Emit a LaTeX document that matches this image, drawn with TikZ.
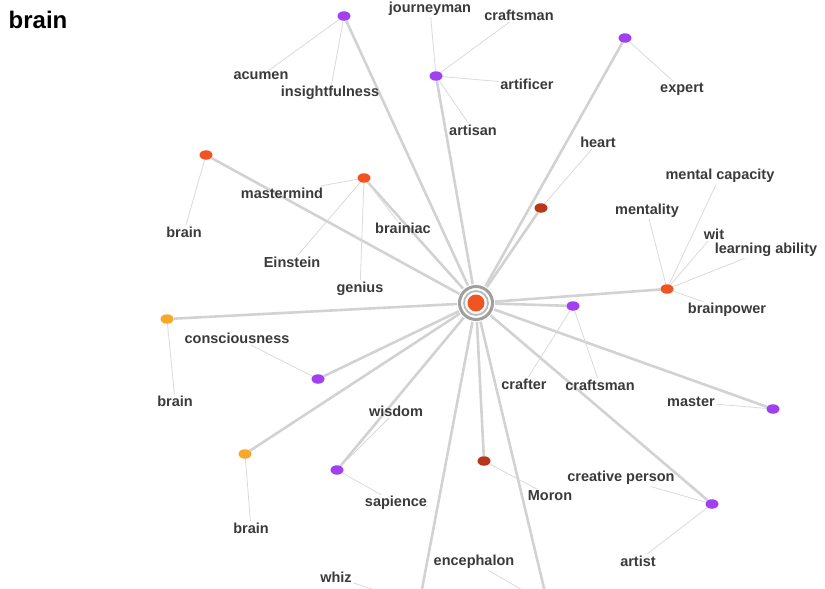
\documentclass[tikz,border=0pt]{standalone}
\usepackage{fontspec}
\setmainfont{Liberation Sans}
\usetikzlibrary{shapes.geometric,backgrounds}
\definecolor{textgray}{HTML}{3A3A3A}
\definecolor{hubgray}{HTML}{D2D2D2}
\definecolor{twiggray}{HTML}{DADADA}
\definecolor{violetdot}{HTML}{A040F0}
\definecolor{reddot}{HTML}{F05422}
\definecolor{rustdot}{HTML}{B8361A}
\definecolor{amberdot}{HTML}{F7A82A}
\begin{document}
\begin{tikzpicture}[x=1pt, y=-1pt,
  word/.style={font=\bfseries\fontsize{14.5}{15}\selectfont, text=textgray, inner sep=1.5pt},
  dot/.style={ellipse, minimum width=13pt, minimum height=9.5pt, inner sep=0pt},
  hub/.style={draw=hubgray, line width=2.6pt},
  twig/.style={draw=twiggray, line width=0.8pt}]
\useasboundingbox (0,0) rectangle (825,589);
\clip (0,0) rectangle (825,589);
\node[font=\bfseries\fontsize{24}{24}\selectfont, text=black, inner sep=0pt] (title) at (38,20) {brain};

% centre
\node[circle, minimum size=38pt, inner sep=0pt] (c) at (476,303) {};

% first ring of dots
\node[dot, fill=violetdot] (acumenhub) at (344,16) {};
\node[dot, fill=violetdot] (artisanhub) at (436,76) {};
\node[dot, fill=violetdot] (experthub) at (625,38) {};
\node[dot, fill=rustdot] (hearthub) at (541,208) {};
\node[dot, fill=reddot] (mindhub) at (667,289) {};
\node[dot, fill=violetdot] (crafterhub) at (573,306) {};
\node[dot, fill=violetdot] (masterhub) at (773,409) {};
\node[dot, fill=violetdot] (artisthub) at (712,504) {};
\node[dot, fill=rustdot] (moronhub) at (484,461) {};
\coordinate (encephalonhub) at (548,605);
\coordinate (whizhub) at (419,605);
\node[dot, fill=violetdot] (wisdomhub) at (337,470) {};
\node[dot, fill=amberdot] (brainhubA) at (245,454) {};
\node[dot, fill=violetdot] (consciousnesshub) at (318,379) {};
\node[dot, fill=amberdot] (brainhubB) at (167,319) {};
\node[dot, fill=reddot] (brainhubC) at (206,155) {};
\node[dot, fill=reddot] (geniushub) at (364,178) {};

% words
\node[word] (acumen) at (261,76) {acumen};
\node[word] (insightfulness) at (330,93) {insightfulness};
\node[word] (journeyman) at (430,9) {journeyman};
\node[word] (craftsmanA) at (519,15) {craftsman};
\node[word] (artificer) at (527,84) {artificer};
\node[word] (artisan) at (473,130) {artisan};
\node[word] (expert) at (682,89) {expert};
\node[word] (heart) at (598,142) {heart};
\node[word] (mentalcapacity) at (720,176) {mental capacity};
\node[word] (mentality) at (647,211) {mentality};
\node[word] (wit) at (714,234) {wit};
\node[word] (learningability) at (766,250) {learning ability};
\node[word] (brainpower) at (727,310) {brainpower};
\node[word] (crafter) at (524,384) {crafter};
\node[word] (craftsmanB) at (600,385) {craftsman};
\node[word] (master) at (691,402) {master};
\node[word] (creativeperson) at (621,478) {creative person};
\node[word] (moron) at (550,496) {Moron};
\node[word] (artist) at (638,561) {artist};
\node[word] (encephalon) at (474,562) {encephalon};
\node[word] (whiz) at (336,577) {whiz};
\node[word] (sapience) at (396,503) {sapience};
\node[word] (wisdom) at (396,411) {wisdom};
\node[word] (brainA) at (251,528) {brain};
\node[word] (consciousness) at (237,338) {consciousness};
\node[word] (brainB) at (175,401) {brain};
\node[word] (brainC) at (184,232) {brain};
\node[word] (mastermind) at (282,193) {mastermind};
\node[word] (einstein) at (292,262) {Einstein};
\node[word] (genius) at (360,289) {genius};
\node[word] (brainiac) at (403,228) {brainiac};

\begin{scope}[on background layer]
% spokes
\foreach \h in {acumenhub,artisanhub,experthub,hearthub,mindhub,crafterhub,masterhub,
  artisthub,moronhub,encephalonhub,whizhub,wisdomhub,brainhubA,consciousnesshub,
  brainhubB,brainhubC,geniushub}
  \draw[hub] (c) -- (\h);
% twigs
\draw[twig] (acumenhub) -- (acumen);
\draw[twig] (acumenhub) -- (insightfulness);
\draw[twig] (artisanhub) -- (journeyman);
\draw[twig] (artisanhub) -- (craftsmanA);
\draw[twig] (artisanhub) -- (artificer);
\draw[twig] (artisanhub) -- (artisan);
\draw[twig] (experthub) -- (expert);
\draw[twig] (hearthub) -- (heart);
\draw[twig] (mindhub) -- (mentalcapacity);
\draw[twig] (mindhub) -- (mentality);
\draw[twig] (mindhub) -- (wit);
\draw[twig] (mindhub) -- (learningability);
\draw[twig] (mindhub) -- (brainpower);
\draw[twig] (crafterhub) -- (crafter);
\draw[twig] (crafterhub) -- (craftsmanB);
\draw[twig] (masterhub) -- (master);
\draw[twig] (artisthub) -- (creativeperson);
\draw[twig] (artisthub) -- (artist);
\draw[twig] (moronhub) -- (moron);
\draw[twig] (encephalonhub) -- (encephalon);
\draw[twig] (whizhub) -- (whiz);
\draw[twig] (wisdomhub) -- (sapience);
\draw[twig] (wisdomhub) -- (wisdom);
\draw[twig] (brainhubA) -- (brainA);
\draw[twig] (consciousnesshub) -- (consciousness);
\draw[twig] (brainhubB) -- (brainB);
\draw[twig] (brainhubC) -- (brainC);
\draw[twig] (geniushub) -- (mastermind);
\draw[twig] (geniushub) -- (einstein);
\draw[twig] (geniushub) -- (genius);
\draw[twig] (geniushub) -- (brainiac);
\end{scope}

% rings round the centre
\fill[white] (c.center) circle (18);
\draw[gray!75, line width=3pt] (c.center) circle (16.5);
\draw[gray!55, line width=1.8pt] (c.center) circle (12);
\fill[reddot] (c.center) circle (8.5);
\end{tikzpicture}
\end{document}
